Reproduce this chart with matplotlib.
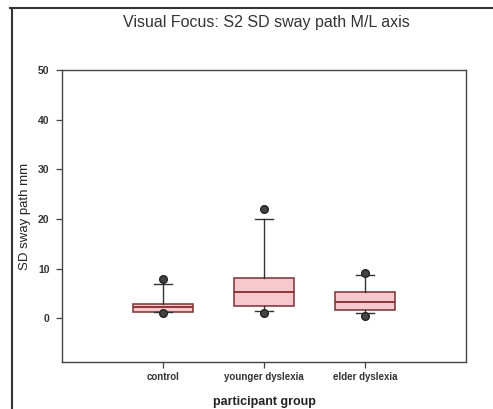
import matplotlib.pyplot as plt
from matplotlib.lines import Line2D

plt.rcParams['font.family'] = ['Liberation Sans', 'DejaVu Sans']

# groups and box statistics
groups = ['control', 'younger dyslexia', 'elder dyslexia']
q1 = [1.35, 2.4, 1.7]
med = [2.35, 5.25, 3.2]
q3 = [2.95, 8.1, 5.2]
whislo = [1.3, 1.4, 1.1]
whishi = [7.0, 19.9, 8.8]
fliers = [[7.9, 1.0], [22.1, 1.1], [9.1, 0.4]]

stats = []
for i in range(len(groups)):
    stats.append(dict(label=groups[i], q1=q1[i], med=med[i], q3=q3[i],
                      whislo=whislo[i], whishi=whishi[i], fliers=fliers[i]))

fig = plt.figure(figsize=(4.93, 4.09), dpi=100)
ax = fig.add_axes([62/493, 1 - 362/409, 404/493, 292/409])

ax.bxp(stats, positions=[1, 2, 3], widths=0.6, capwidths=0.17,
       patch_artist=True,
       boxprops=dict(facecolor='#f7c9cf', edgecolor='#7a3030', linewidth=1.1),
       medianprops=dict(color='#8a2a2a', linewidth=1.3),
       whiskerprops=dict(color='#333333', linewidth=1.0),
       capprops=dict(color='#333333', linewidth=1.0),
       flierprops=dict(marker='o', markerfacecolor='#444444',
                       markeredgecolor='#222222', markersize=5.5))

ax.set_xlim(0, 4)
ax.set_ylim(-8.8, 50)
ax.set_yticks([0, 10, 20, 30, 40, 50])
ax.set_xticks([1, 2, 3])
ax.set_xticklabels(groups, fontsize=7, fontweight='bold', color='#333333')
for t in ax.get_yticklabels():
    t.set_fontsize(7.5)
    t.set_fontweight('bold')
    t.set_color('#333333')
ax.tick_params(direction='out', length=4, width=0.9, color='#444444')
ax.tick_params(axis='y', pad=5)
for s in ax.spines.values():
    s.set_color('#444444')
    s.set_linewidth(1.0)

ax.set_ylabel('SD sway path mm', fontsize=9.5, color='#222222', labelpad=5)
ax.set_xlabel('participant group', fontsize=9, fontweight='bold',
              color='#222222', labelpad=10)
fig.text(266/493, 1 - 22/409, 'Visual Focus: S2 SD sway path M/L axis',
         ha='center', va='center', fontsize=11.5, color='#333333')

# outer frame (top and left edges visible in the scan)
fig.add_artist(Line2D([10/493, 1], [1 - 8/409, 1 - 8/409],
                      transform=fig.transFigure, color='#333333', linewidth=1.5))
fig.add_artist(Line2D([12/493, 12/493], [0, 1 - 8/409],
                      transform=fig.transFigure, color='#333333', linewidth=1.5))

fig.savefig('out.png', dpi=100)
